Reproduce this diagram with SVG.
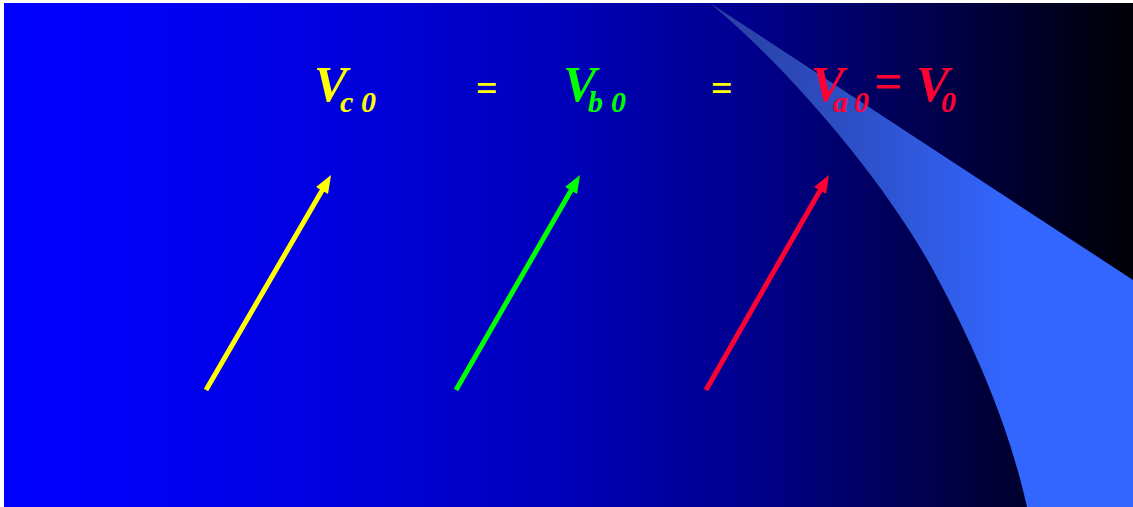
<svg xmlns="http://www.w3.org/2000/svg" width="1133" height="507" viewBox="0 0 1133 507">
  <style>
    .lbl { font-family: "Liberation Serif", "Times New Roman", serif; font-weight: bold; font-style: italic; font-size: 50px; }
    .sub { font-size: 30px; }
    .eq { font-family: "Liberation Serif", "Times New Roman", serif; font-weight: bold; font-size: 38px; fill: #ffff00; }
    .yel { fill: #ffff00; }
    .grn { fill: #00ff00; }
    .red { fill: #ff0033; }
    .arrow { stroke-width: 5; fill: none; stroke-linecap: butt; }
  </style>
  <defs>
    <linearGradient id="bg" x1="0" y1="0" x2="1" y2="0">
      <stop offset="0" stop-color="#0000ff"/>
      <stop offset="0.1" stop-color="#0000f8"/>
      <stop offset="0.3" stop-color="#0000dd"/>
      <stop offset="0.5" stop-color="#0000b8"/>
      <stop offset="0.65" stop-color="#000090"/>
      <stop offset="0.8" stop-color="#000055"/>
      <stop offset="0.92" stop-color="#000025"/>
      <stop offset="1" stop-color="#000005"/>
    </linearGradient>
    <linearGradient id="sw" gradientUnits="userSpaceOnUse" x1="710" y1="0" x2="1010" y2="0">
      <stop offset="0" stop-color="#2a3fa0"/>
      <stop offset="0.5" stop-color="#2d50c8"/>
      <stop offset="1" stop-color="#3366ff"/>
    </linearGradient>
    <marker id="hy" viewBox="0 0 18 14" markerUnits="userSpaceOnUse" markerWidth="18" markerHeight="14" refX="7" refY="7" orient="auto">
      <path d="M0,0 L18,7 L0,14 Z" fill="#ffff00"/>
    </marker>
    <marker id="hg" viewBox="0 0 18 14" markerUnits="userSpaceOnUse" markerWidth="18" markerHeight="14" refX="7" refY="7" orient="auto">
      <path d="M0,0 L18,7 L0,14 Z" fill="#00ff00"/>
    </marker>
    <marker id="hr" viewBox="0 0 18 14" markerUnits="userSpaceOnUse" markerWidth="18" markerHeight="14" refX="7" refY="7" orient="auto">
      <path d="M0,0 L18,7 L0,14 Z" fill="#ff0033"/>
    </marker>
  </defs>

  <rect x="0" y="0" width="1133" height="507" fill="#ffffff"/>
  <rect x="4" y="3" width="1129" height="504" fill="url(#bg)"/>
  <path d="M710,3 C790,70 882,178 932,268 C977,350 1010,430 1027,507 L1133,507 L1133,280 Z" fill="url(#sw)"/>

  <g id="connectors">
    <line class="arrow" x1="206" y1="390" x2="325.5" y2="184.5" stroke="#ffff00" marker-end="url(#hy)"/>
    <line class="arrow" x1="456" y1="390" x2="574.5" y2="184.5" stroke="#00ff00" marker-end="url(#hg)"/>
    <line class="arrow" x1="706" y1="390" x2="823.5" y2="184.5" stroke="#ff0033" marker-end="url(#hr)"/>
  </g>

  <g id="label-vc0">
    <text class="lbl yel" x="314" y="101">V<tspan class="sub" x="340" y="112">c</tspan><tspan class="sub" x="361" y="112">0</tspan></text>
  </g>
  <g id="eq1">
    <text class="eq" x="476" y="101">=</text>
  </g>
  <g id="label-vb0">
    <text class="lbl grn" x="563" y="101">V<tspan class="sub" x="588" y="112">b</tspan><tspan class="sub" x="611" y="112">0</tspan></text>
  </g>
  <g id="eq2">
    <text class="eq" x="711" y="101">=</text>
  </g>
  <g id="label-va0">
    <text class="lbl red" x="811" y="101">V<tspan class="sub" x="833" y="112">a</tspan><tspan class="sub" x="854" y="112">0</tspan><tspan x="874" y="98">=</tspan><tspan x="916" y="101">V</tspan><tspan class="sub" x="941" y="112">0</tspan></text>
  </g>
</svg>
